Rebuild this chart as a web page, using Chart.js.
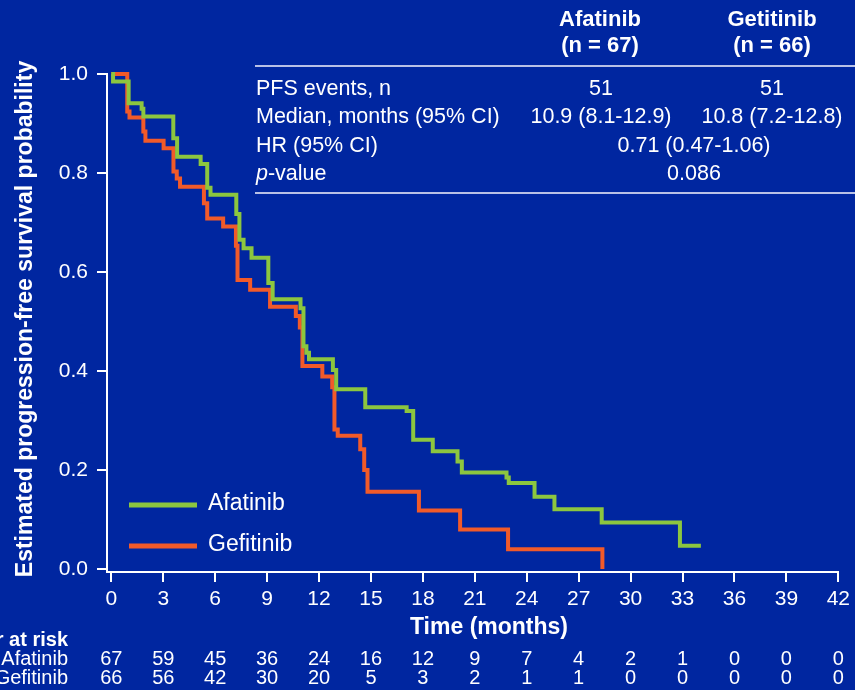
<!DOCTYPE html>
<html>
<head>
<meta charset="utf-8">
<script src="https://cdn.jsdelivr.net/npm/chart.js@4"></script>
<style>
  html, body { margin: 0; padding: 0; background: #0026a0; overflow: hidden; }
</style>
</head>
<body>
<canvas id="km" width="855" height="690"></canvas>
<script>
// Kaplan-Meier steps: time (months) and survival after the drop
const afatinibTime = [0, 0.1, 1.0, 1.75, 1.85, 3.58, 3.8, 5.16, 5.54, 5.73, 7.22, 7.4, 7.64, 8.1, 9.07, 9.32, 10.93, 11.1, 11.27, 11.42, 12.8, 12.99, 14.67, 17.06, 17.44, 18.57, 20.0, 20.25, 22.83, 22.96, 24.45, 25.6, 28.33, 32.85, 34.06];
const afatinibSurv = [1.0, 0.985, 0.941, 0.93, 0.914, 0.87, 0.833, 0.818, 0.77, 0.756, 0.717, 0.665, 0.648, 0.629, 0.578, 0.545, 0.527, 0.45, 0.437, 0.424, 0.402, 0.363, 0.327, 0.319, 0.261, 0.238, 0.217, 0.195, 0.185, 0.174, 0.146, 0.121, 0.094, 0.047, 0.047];

const gefitinibTime = [0, 0.92, 1.05, 1.85, 1.97, 3.02, 3.59, 3.78, 3.97, 5.35, 5.54, 6.46, 7.2, 7.29, 8.02, 9.17, 10.66, 10.89, 11.04, 12.19, 12.76, 12.89, 13.08, 14.38, 14.61, 14.8, 17.77, 20.15, 22.92, 28.37];
const gefitinibSurv = [1.0, 0.924, 0.912, 0.884, 0.865, 0.85, 0.803, 0.789, 0.772, 0.739, 0.708, 0.692, 0.653, 0.584, 0.564, 0.53, 0.511, 0.488, 0.41, 0.389, 0.367, 0.282, 0.269, 0.242, 0.2, 0.156, 0.118, 0.08, 0.04, 0.0];

const xTicks = [0, 3, 6, 9, 12, 15, 18, 21, 24, 27, 30, 33, 36, 39, 42];
const yTicks = [0, 0.2, 0.4, 0.6, 0.8, 1.0];

const riskAfatinib = [67, 59, 45, 36, 24, 16, 12, 9, 7, 4, 2, 1, 0, 0, 0];
const riskGefitinib = [66, 56, 42, 30, 20, 5, 3, 2, 1, 1, 0, 0, 0, 0, 0];

const tableRows = ["PFS events, n", "Median, months (95% CI)", "HR (95% CI)", "p-value"];
const afatinibStats = ["51", "10.9 (8.1-12.9)"];
const gefitinibStats = ["51", "10.8 (7.2-12.8)"];
const combinedStats = ["0.71 (0.47-1.06)", "0.086"];

const BG = "#0026a0";
const GREEN = "#8cc63f";
const ORANGE = "#f15a29";
const FONT = "'Liberation Sans', Arial, sans-serif";

function toPoints(times, surv) {
  return times.map((t, i) => ({ x: t, y: surv[i] }));
}

// background + all the text that sits around the plot
const decor = {
  id: "decor",
  beforeDraw(chart) {
    const ctx = chart.ctx;
    ctx.save();
    ctx.fillStyle = BG;
    ctx.fillRect(0, 0, chart.width, chart.height);
    ctx.restore();
  },
  afterDraw(chart) {
    const ctx = chart.ctx;
    const xs = chart.scales.x;
    ctx.save();
    ctx.fillStyle = "#ffffff";
    ctx.textBaseline = "middle";

    // stats table header
    ctx.font = `bold 22px ${FONT}`;
    ctx.textAlign = "center";
    ctx.fillText("Afatinib", 600, 20);
    ctx.fillText("(n = 67)", 600, 46);
    ctx.fillText("Getitinib", 772, 20);
    ctx.fillText("(n = 66)", 772, 46);

    ctx.strokeStyle = "#b8c0e6";
    ctx.lineWidth = 2;
    ctx.beginPath();
    ctx.moveTo(255, 66); ctx.lineTo(855, 66);
    ctx.moveTo(255, 193); ctx.lineTo(855, 193);
    ctx.stroke();

    const rowY = [89, 117, 146, 174];
    ctx.font = `21.5px ${FONT}`;
    ctx.textAlign = "left";
    tableRows.forEach((row, i) => {
      if (row.startsWith("p-")) {
        ctx.font = `italic 21.5px ${FONT}`;
        ctx.fillText("p", 256, rowY[i]);
        const w = ctx.measureText("p").width;
        ctx.font = `21.5px ${FONT}`;
        ctx.fillText(row.slice(1), 256 + w, rowY[i]);
      } else {
        ctx.fillText(row, 256, rowY[i]);
      }
    });
    ctx.textAlign = "center";
    afatinibStats.forEach((s, i) => ctx.fillText(s, 601, rowY[i]));
    gefitinibStats.forEach((s, i) => ctx.fillText(s, 772, rowY[i]));
    combinedStats.forEach((s, i) => ctx.fillText(s, 694, rowY[i + 2]));

    // legend
    ctx.lineWidth = 5;
    [[GREEN, "Afatinib", 505], [ORANGE, "Gefitinib", 546]].forEach(([c, label, y]) => {
      ctx.strokeStyle = c;
      ctx.beginPath();
      ctx.moveTo(129, y); ctx.lineTo(197, y);
      ctx.stroke();
      ctx.font = `23px ${FONT}`;
      ctx.textAlign = "left";
      ctx.fillText(label, 208, y - 1);
    });

    // axis titles
    ctx.font = `bold 23px ${FONT}`;
    ctx.textAlign = "center";
    ctx.fillText("Time (months)", 489, 628);

    ctx.save();
    ctx.translate(26, 319);
    ctx.rotate(-Math.PI / 2);
    ctx.font = `bold 23px ${FONT}`;
    ctx.fillText("Estimated progression-free survival probability", 0, 0);
    ctx.restore();

    // number at risk
    ctx.textAlign = "right";
    ctx.font = `bold 20px ${FONT}`;
    ctx.fillText("Number at risk", 68, 640);
    ctx.font = `20px ${FONT}`;
    ctx.fillText("Afatinib", 68, 659);
    ctx.fillText("Gefitinib", 68, 678);
    ctx.textAlign = "center";
    xTicks.forEach((t, i) => {
      const px = xs.getPixelForValue(t);
      ctx.fillText(String(riskAfatinib[i]), px, 659);
      ctx.fillText(String(riskGefitinib[i]), px, 678);
    });
    ctx.restore();
  },
};

new Chart(document.getElementById("km"), {
  type: "line",
  data: {
    datasets: [
      {
        label: "Afatinib",
        data: toPoints(afatinibTime, afatinibSurv),
        borderColor: GREEN,
        borderWidth: 4,
        stepped: "before",
        pointRadius: 0,
        fill: false,
      },
      {
        label: "Gefitinib",
        data: toPoints(gefitinibTime, gefitinibSurv),
        borderColor: ORANGE,
        borderWidth: 4,
        stepped: "before",
        pointRadius: 0,
        fill: false,
      },
    ],
  },
  options: {
    responsive: false,
    animation: false,
    clip: false,
    layout: { padding: { left: 0, top: 74, right: 11, bottom: 0 } },
    plugins: { legend: { display: false }, tooltip: { enabled: false } },
    scales: {
      x: {
        type: "linear",
        min: -0.25,
        max: 42,
        afterBuildTicks: (scale) => { scale.ticks = xTicks.map((v) => ({ value: v })); },
        afterFit: (scale) => { scale.height = 118; },
        ticks: {
          color: "#ffffff",
          font: { family: FONT, size: 21 },
          padding: 5,
          maxRotation: 0,
          autoSkip: false,
        },
        grid: { display: true, drawOnChartArea: false, drawTicks: true, tickLength: 10, color: "#ffffff", lineWidth: 2 },
        border: { display: true, color: "#ffffff", width: 2 },
      },
      y: {
        type: "linear",
        min: -0.006,
        max: 1.0,
        afterBuildTicks: (scale) => { scale.ticks = yTicks.map((v) => ({ value: v })); },
        afterFit: (scale) => { scale.width = 107; },
        ticks: {
          color: "#ffffff",
          font: { family: FONT, size: 21 },
          padding: 9,
          callback: (v) => v.toFixed(1),
        },
        grid: { display: true, drawOnChartArea: false, drawTicks: true, tickLength: 10, color: "#ffffff", lineWidth: 2 },
        border: { display: true, color: "#ffffff", width: 2 },
      },
    },
  },
  plugins: [decor],
});
</script>
</body>
</html>
